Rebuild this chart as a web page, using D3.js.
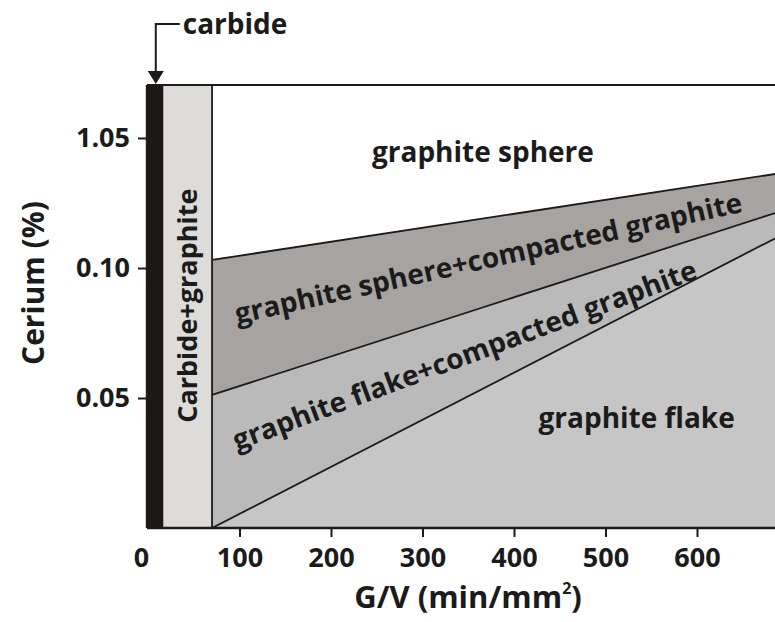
<!DOCTYPE html>
<html lang="en">
<head>
<meta charset="utf-8">
<title>Cerium vs G/V phase map</title>
<script src="https://cdn.jsdelivr.net/npm/d3@7"></script>
<style>
  body { margin: 0; background: #fff; }
  svg text { font-family: "Open Sans", sans-serif; font-weight: bold; fill: #1b1b1b; }
</style>
</head>
<body>
<div id="chart"></div>
<script>
// data
var xTickValues = [0, 100, 200, 300, 400, 500, 600];
var yTickValues = [0.05, 0.10, 0.15];
var yTickLabels = ["0.05", "0.10", "1.05"];   // as printed on the original
var carbideEnd = 17;          // G/V where the carbide band stops
var carbideGraphiteEnd = 70;  // G/V where carbide+graphite stops
var xMax = 686;
var yMax = 0.1704;
var upperBoundary = [[70, 0.1031], [686, 0.1362]];   // sphere / sphere+compacted
var middleBoundary = [[70, 0.0512], [686, 0.1212]];  // sphere+compacted / flake+compacted
var lowerBoundary = [[70, 0], [686, 0.1115]];        // flake+compacted / flake
var regionNames = ["graphite sphere", "graphite sphere+compacted graphite",
                   "graphite flake+compacted graphite", "graphite flake"];

var width = 775, height = 622;

var svg = d3.select("#chart").append("svg")
    .attr("width", width)
    .attr("height", height);

var x = d3.scaleLinear().domain([0, 600]).range([148, 697]);
var y = d3.scaleLinear().domain([0, 0.15]).range([528, 138]);

svg.append("clipPath").attr("id", "plot")
  .append("rect")
    .attr("x", x(0)).attr("y", y(yMax))
    .attr("width", x(xMax) - x(0)).attr("height", y(0) - y(yMax));

var plot = svg.append("g").attr("clip-path", "url(#plot)");
var line = d3.line().x(function(d) { return x(d[0]); }).y(function(d) { return y(d[1]); });

// carbide and carbide+graphite bands
plot.append("rect")
    .attr("x", x(0)).attr("y", y(yMax))
    .attr("width", x(carbideEnd) - x(0)).attr("height", y(0) - y(yMax))
    .attr("fill", "#1c1816");
plot.append("rect")
    .attr("x", x(carbideEnd)).attr("y", y(yMax))
    .attr("width", x(carbideGraphiteEnd) - x(carbideEnd)).attr("height", y(0) - y(yMax))
    .attr("fill", "#dddcd8");

// phase regions
var sphereCompacted = upperBoundary.concat(middleBoundary.slice().reverse());
var flakeCompacted = middleBoundary.concat(lowerBoundary.slice().reverse());
var flake = lowerBoundary.concat([[xMax, 0]]);

plot.append("path").attr("d", line(sphereCompacted) + "Z").attr("fill", "#a6a3a0");
plot.append("path").attr("d", line(flakeCompacted) + "Z").attr("fill", "#bababa");
plot.append("path").attr("d", line(flake) + "Z").attr("fill", "#c6c6c6");

[upperBoundary, middleBoundary, lowerBoundary].forEach(function(b) {
  plot.append("path").attr("d", line(b))
      .attr("fill", "none").attr("stroke", "#1b1b1b").attr("stroke-width", 1.8);
});

// divider at end of carbide+graphite
plot.append("line")
    .attr("x1", x(carbideGraphiteEnd)).attr("x2", x(carbideGraphiteEnd))
    .attr("y1", y(yMax)).attr("y2", y(0))
    .attr("stroke", "#1b1b1b").attr("stroke-width", 1.8);

// top border
svg.append("line")
    .attr("x1", x(0) - 1).attr("x2", width)
    .attr("y1", y(yMax)).attr("y2", y(yMax))
    .attr("stroke", "#1b1b1b").attr("stroke-width", 2);

// axes
var xAxis = svg.append("g")
    .attr("transform", "translate(0," + y(0) + ")")
    .call(d3.axisBottom(x).tickValues(xTickValues).tickSize(9).tickSizeOuter(0).tickPadding(10));
xAxis.select(".domain").attr("stroke", "#1b1b1b").attr("stroke-width", 2.4)
    .attr("d", "M" + (x(0) - 1) + ",0H" + width);
xAxis.selectAll(".tick line").attr("stroke", "#1b1b1b").attr("stroke-width", 2)
    .filter(function(d) { return d === 0; }).remove();
xAxis.selectAll(".tick text")
    .attr("font-size", 27).attr("dy", "0.74em")
    .attr("fill", "#1b1b1b")
    .attr("dx", function(d) { return d === 0 ? -7 : 0; });

var yAxis = svg.append("g")
    .attr("transform", "translate(" + (x(0) - 1) + ",0)")
    .call(d3.axisLeft(y).tickValues(yTickValues).tickSize(9).tickSizeOuter(0).tickPadding(8)
      .tickFormat(function(d, i) { return yTickLabels[i]; }));
yAxis.select(".domain").attr("stroke", "#1b1b1b").attr("stroke-width", 2.4)
    .attr("d", "M0," + y(yMax) + "V" + y(0));
yAxis.selectAll(".tick line").attr("stroke", "#1b1b1b").attr("stroke-width", 2);
yAxis.selectAll(".tick text").attr("font-size", 27).attr("fill", "#1b1b1b");

// axis titles
svg.append("text")
    .attr("transform", "translate(33,283) rotate(-90)")
    .attr("text-anchor", "middle").attr("dy", "0.35em")
    .attr("font-size", 30)
    .text("Cerium (%)");

var xt = svg.append("text")
    .attr("x", 468).attr("y", 608)
    .attr("text-anchor", "middle")
    .attr("font-size", 31)
    .text("G/V (min/mm");
xt.append("tspan").attr("font-size", 16).attr("dy", -14).text("2");
xt.append("tspan").attr("dy", 14).text(")");

// region labels
var labelPos = [
  {x: 366, y: 0.1446, angle: 0},
  {x: 372, y: 0.1038, angle: -12.5},
  {x: 346, y: 0.0665, angle: -20.5},
  {x: 534, y: 0.0423, angle: 0}
];
regionNames.forEach(function(name, i) {
  var p = labelPos[i];
  svg.append("text")
      .attr("transform", "translate(" + x(p.x) + "," + y(p.y) + ") rotate(" + p.angle + ")")
      .attr("text-anchor", "middle").attr("dy", "0.35em")
      .attr("font-size", 28)
      .text(name);
});

svg.append("text")
    .attr("transform", "translate(" + ((x(carbideEnd) + x(carbideGraphiteEnd)) / 2) + "," + y(0.0855) + ") rotate(-90)")
    .attr("text-anchor", "middle").attr("dy", "0.35em")
    .attr("font-size", 27)
    .text("Carbide+graphite");

// carbide pointer
var ax = (x(0) + x(carbideEnd)) / 2;
svg.append("path")
    .attr("d", "M" + (ax + 24) + ",24H" + ax + "V74")
    .attr("fill", "none").attr("stroke", "#1b1b1b").attr("stroke-width", 2);
svg.append("path")
    .attr("d", "M" + (ax - 8) + ",71L" + (ax + 8) + ",71L" + ax + "," + (y(yMax) - 1) + "Z")
    .attr("fill", "#1b1b1b");
svg.append("text")
    .attr("x", ax + 27).attr("y", 34)
    .attr("font-size", 28)
    .text("carbide");
</script>
</body>
</html>
